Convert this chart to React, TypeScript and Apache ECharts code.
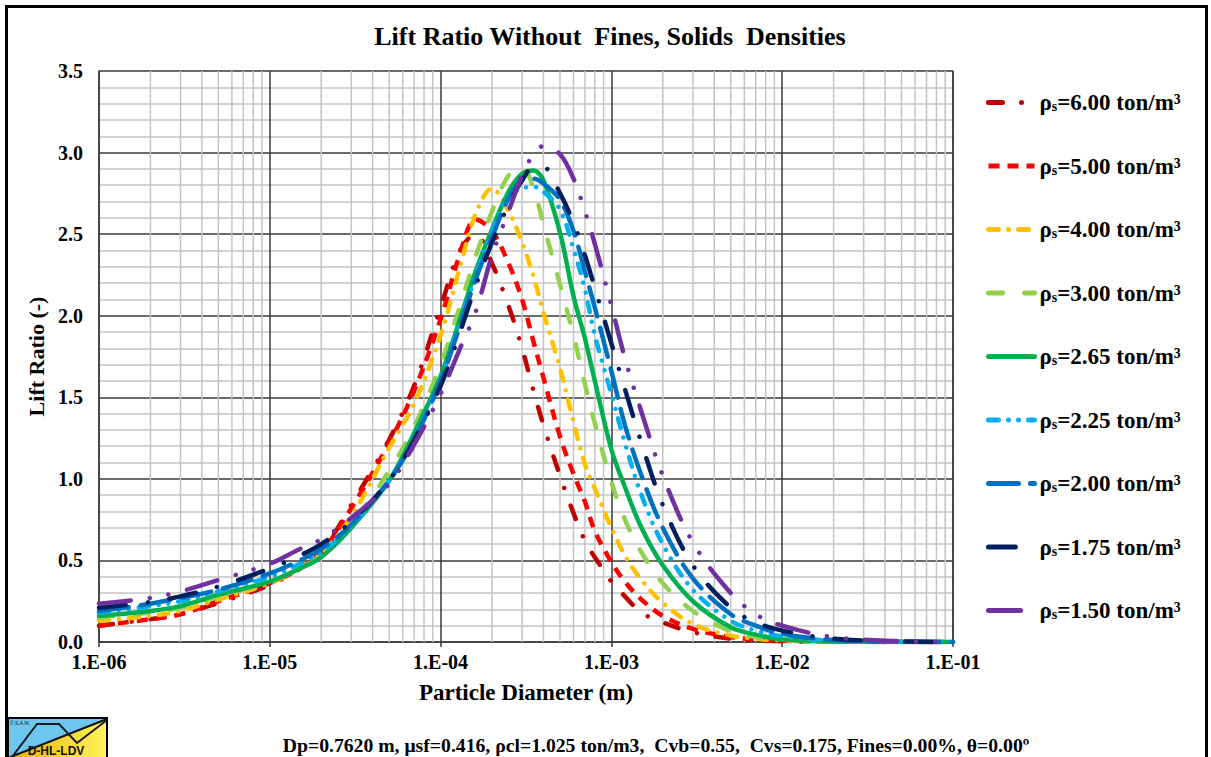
import React, { useEffect, useRef } from "react";
import * as echarts from "echarts";

// Particle diameters (m) at which the curves were read
const xDiameters = [1e-6, 2e-6, 3e-6, 5e-6, 1e-5, 1.5e-5, 2e-5, 3e-5, 5e-5, 7e-5, 1e-4, 1.3e-4, 1.6e-4, 2e-4, 2.5e-4, 3e-4, 3.5e-4, 4e-4, 5e-4, 6e-4, 7e-4, 8e-4, 1e-3, 1.2e-3, 1.5e-3, 2e-3, 3e-3, 5e-3, 7e-3, 1e-2, 2e-2, 5e-2, 1e-1];

// Lift ratio per solids density
const lift600 = [0.10, 0.14, 0.17, 0.24, 0.35, 0.45, 0.55, 0.84, 1.24, 1.57, 2.05, 2.40, 2.50, 2.32, 2.06, 1.80, 1.54, 1.33, 1.02, 0.79, 0.62, 0.52, 0.37, 0.28, 0.18, 0.12, 0.06, 0.02, 0.01, 0.005, 0.001, 0, 0];
const lift500 = [0.10, 0.14, 0.17, 0.25, 0.36, 0.45, 0.55, 0.82, 1.22, 1.54, 1.98, 2.38, 2.59, 2.52, 2.32, 2.10, 1.84, 1.62, 1.26, 1.03, 0.86, 0.68, 0.49, 0.37, 0.26, 0.16, 0.08, 0.03, 0.015, 0.008, 0.002, 0, 0];
const lift400 = [0.13, 0.16, 0.19, 0.26, 0.36, 0.45, 0.54, 0.77, 1.19, 1.46, 1.88, 2.30, 2.62, 2.78, 2.64, 2.45, 2.24, 2.02, 1.68, 1.35, 1.09, 0.94, 0.70, 0.53, 0.38, 0.24, 0.11, 0.04, 0.02, 0.01, 0.002, 0, 0];
const lift300 = [0.15, 0.18, 0.21, 0.28, 0.37, 0.45, 0.53, 0.72, 1.05, 1.32, 1.70, 2.06, 2.36, 2.64, 2.86, 2.91, 2.78, 2.56, 2.19, 1.88, 1.58, 1.34, 0.98, 0.75, 0.55, 0.36, 0.19, 0.065, 0.03, 0.015, 0.003, 0, 0];
const lift265 = [0.16, 0.19, 0.22, 0.29, 0.37, 0.45, 0.52, 0.70, 0.99, 1.28, 1.63, 1.98, 2.27, 2.53, 2.76, 2.87, 2.89, 2.83, 2.51, 2.12, 1.86, 1.60, 1.18, 0.95, 0.70, 0.47, 0.25, 0.09, 0.045, 0.015, 0.003, 0, 0];
const lift225 = [0.18, 0.22, 0.25, 0.31, 0.40, 0.48, 0.55, 0.71, 0.99, 1.25, 1.61, 1.96, 2.24, 2.52, 2.73, 2.78, 2.79, 2.76, 2.65, 2.41, 2.16, 1.88, 1.52, 1.22, 0.90, 0.60, 0.32, 0.13, 0.07, 0.035, 0.008, 0.001, 0];
const lift200 = [0.19, 0.235, 0.27, 0.32, 0.42, 0.50, 0.57, 0.72, 0.99, 1.24, 1.60, 1.94, 2.22, 2.48, 2.72, 2.83, 2.84, 2.81, 2.71, 2.52, 2.27, 2.05, 1.66, 1.33, 1.02, 0.70, 0.39, 0.17, 0.10, 0.05, 0.012, 0.002, 0];
const lift175 = [0.21, 0.245, 0.28, 0.34, 0.45, 0.53, 0.60, 0.74, 0.99, 1.24, 1.57, 1.90, 2.18, 2.45, 2.68, 2.83, 2.91, 2.91, 2.75, 2.57, 2.37, 2.17, 1.83, 1.55, 1.22, 0.84, 0.47, 0.21, 0.12, 0.07, 0.02, 0.003, 0];
const lift150 = [0.235, 0.27, 0.31, 0.38, 0.48, 0.57, 0.63, 0.76, 0.97, 1.21, 1.52, 1.80, 2.02, 2.37, 2.64, 2.86, 2.99, 3.04, 2.99, 2.84, 2.64, 2.44, 2.06, 1.74, 1.41, 1.02, 0.61, 0.30, 0.17, 0.10, 0.03, 0.005, 0];

const densities = ["6.00", "5.00", "4.00", "3.00", "2.65", "2.25", "2.00", "1.75", "1.50"];
const liftSeries = [lift600, lift500, lift400, lift300, lift265, lift225, lift200, lift175, lift150];

const xTickLabels = ["1.E-06", "1.E-05", "1.E-04", "1.E-03", "1.E-02", "1.E-01"];
const yTickLabels = ["0.0", "0.5", "1.0", "1.5", "2.0", "2.5", "3.0", "3.5"];
const minorMultipliers = [2, 3, 4, 5, 6, 7, 8, 9];
const decades = [1e-6, 1e-5, 1e-4, 1e-3, 1e-2];

const titleText = "Lift Ratio Without  Fines, Solids  Densities";
const xAxisTitle = "Particle Diameter (m)";
const yAxisTitle = "Lift Ratio (-)";
const footerText = "Dp=0.7620 m, μsf=0.416, ρcl=1.025 ton/m3,  Cvb=0.55,  Cvs=0.175, Fines=0.00%, θ=0.00º";

// Styles (colour, dash pattern, cap)
const lineStyles = [
  { color: "#C00000", type: [14, 19, 0.01, 19], cap: "round" },
  { color: "#FF0000", type: [11, 8], cap: "butt" },
  { color: "#FFC000", type: [10, 10, 0.01, 10], cap: "round" },
  { color: "#92D050", type: [14, 22], cap: "round" },
  { color: "#00B050", type: "solid", cap: "round" },
  { color: "#00B0F0", type: [10, 10, 0.01, 10, 0.01, 10], cap: "round" },
  { color: "#0070C0", type: [30, 12], cap: "round" },
  { color: "#002060", type: [27, 22, 0.01, 22], cap: "round" },
  { color: "#7030A0", type: [32, 19, 0.01, 19, 0.01, 19], cap: "round" },
];

const SERIF = "'Liberation Serif', 'Times New Roman', serif";
const MAJOR = "#3a3a3a";
const MINOR = "#c4c4c4";

export default function App() {
  const ref = useRef<HTMLDivElement>(null);

  useEffect(() => {
    if (!ref.current) return;
    const chart = echarts.init(ref.current, undefined, { renderer: "svg" });

    const names = densities.map((d) => `ρs=${d} ton/m³`);
    const minorX: number[] = [];
    decades.forEach((d) => minorMultipliers.forEach((m) => minorX.push(d * m)));
    const minorGridData: any[] = [];
    minorX.forEach((v) => {
      minorGridData.push([v, 0], [v, 3.5], [v, "-"]);
    });

    const dataSeries = liftSeries.map((vals, i) => ({
      type: "line",
      name: names[i],
      data: xDiameters.map((x, k) => [x, vals[k]]),
      showSymbol: false,
      symbol: "none",
      smooth: 0.35,
      z: 3,
      lineStyle: {
        width: 4.5,
        color: lineStyles[i].color,
        type: lineStyles[i].type,
        cap: lineStyles[i].cap,
      },
      itemStyle: { color: lineStyles[i].color },
      emphasis: { disabled: true },
    }));

    const gridSeries = {
      type: "line",
      name: "minorGrid",
      data: minorGridData,
      showSymbol: false,
      symbol: "none",
      connectNulls: false,
      lineStyle: { width: 1.5, color: MINOR, type: "solid" },
      silent: true,
      z: 1,
      emphasis: { disabled: true },
    };

    const logoGradient = new echarts.graphic.LinearGradient(0, 0, 1, 0, [
      { offset: 0, color: "#E6B000" },
      { offset: 1, color: "#FFF35C" },
    ]);

    const option: any = {
      animation: false,
      backgroundColor: "#ffffff",
      grid: { left: 99, right: 258, top: 71, bottom: 115, containLabel: false },
      xAxis: {
        type: "log",
        logBase: 10,
        min: 1e-6,
        max: 1e-1,
        name: xAxisTitle,
        nameLocation: "middle",
        nameGap: 39,
        nameTextStyle: { fontFamily: SERIF, fontWeight: "bold", fontSize: 23, color: "#000" },
        axisLine: { show: true, lineStyle: { color: MAJOR, width: 1.5 } },
        axisTick: { show: true, length: 5, lineStyle: { color: MAJOR, width: 1.5 } },
        axisLabel: {
          margin: 10,
          fontFamily: SERIF,
          fontWeight: "bold",
          fontSize: 20,
          color: "#000",
          formatter: (v: number) => xTickLabels[Math.round(Math.log10(v)) + 6] ?? "",
        },
        splitLine: { show: true, lineStyle: { color: MAJOR, width: 1.5 } },
      },
      yAxis: {
        type: "value",
        min: 0,
        max: 3.5,
        interval: 0.5,
        name: yAxisTitle,
        nameLocation: "middle",
        nameGap: 50,
        nameTextStyle: { fontFamily: SERIF, fontWeight: "bold", fontSize: 22, color: "#000" },
        axisLine: { show: true, lineStyle: { color: MAJOR, width: 1.5 } },
        axisTick: { show: false },
        minorTick: { show: false, splitNumber: 5 },
        minorSplitLine: { show: true, lineStyle: { color: MINOR, width: 1.5 } },
        axisLabel: {
          margin: 16,
          fontFamily: SERIF,
          fontWeight: "bold",
          fontSize: 20,
          color: "#000",
          formatter: (v: number) => yTickLabels[Math.round(v / 0.5)] ?? "",
        },
        splitLine: { show: true, lineStyle: { color: MAJOR, width: 1.5 } },
      },
      legend: {
        orient: "vertical",
        left: 981,
        top: 86,
        itemGap: 40.5,
        itemWidth: 46,
        itemHeight: 22,
        selectedMode: false,
        data: names,
        lineStyle: { width: 5 },
        itemStyle: { color: "rgba(0,0,0,0)", borderColor: "rgba(0,0,0,0)", borderWidth: 0, opacity: 0 },
        formatter: (name: string) => `{t|ρ}{s|s}{t|${name.slice(2)}}`,
        textStyle: {
          rich: {
            t: { fontFamily: SERIF, fontWeight: "bold", fontSize: 23, color: "#000", lineHeight: 22 },
            s: { fontFamily: SERIF, fontWeight: "bold", fontSize: 14, color: "#000", lineHeight: 12, verticalAlign: "bottom" },
          },
        },
      },
      series: [gridSeries, ...dataSeries],
      graphic: [
        {
          type: "rect",
          silent: true,
          shape: { x: 6.5, y: 6.5, width: 1200, height: 800 },
          style: { fill: "none", stroke: "#000", lineWidth: 3 },
          z: 10,
        },
        {
          type: "text",
          silent: true,
          x: 610,
          y: 36,
          style: {
            text: titleText,
            font: `bold 26px ${SERIF}`,
            fill: "#000",
            textAlign: "center",
            textVerticalAlign: "middle",
          },
        },
        {
          type: "text",
          silent: true,
          x: 656,
          y: 745,
          style: {
            text: footerText,
            font: `bold 19.7px ${SERIF}`,
            fill: "#000",
            textAlign: "center",
            textVerticalAlign: "middle",
          },
        },
        {
          type: "group",
          silent: true,
          z: 20,
          children: [
            { type: "rect", shape: { x: 8, y: 718, width: 99, height: 45 }, style: { fill: "#6DC6F0" } },
            { type: "polygon", shape: { points: [[8, 758], [107, 719], [107, 763], [8, 763]] }, style: { fill: logoGradient } },
            { type: "line", shape: { x1: 8, y1: 758, x2: 107, y2: 719 }, style: { stroke: "#111", lineWidth: 2 } },
            { type: "polyline", shape: { points: [[12, 757], [37, 724], [59, 724], [77, 743], [107, 720]] }, style: { stroke: "#1a1a1a", lineWidth: 2, fill: "none" } },
            { type: "rect", shape: { x: 8, y: 718, width: 99, height: 45 }, style: { fill: "none", stroke: "#000", lineWidth: 2 } },
            { type: "text", x: 56, y: 751, style: { text: "D-HL-LDV", font: "bold 12px 'Liberation Sans', Arial, sans-serif", fill: "#111", textAlign: "center", textVerticalAlign: "middle" } },
            { type: "text", x: 10, y: 723, style: { text: "© S.A.M.", font: "5px 'Liberation Sans', Arial, sans-serif", fill: "#222", textAlign: "left", textVerticalAlign: "middle" } },
          ],
        },
      ],
    };

    chart.setOption(option);
    return () => chart.dispose();
  }, []);

  return (
    <div
      ref={ref}
      style={{ position: "absolute", left: 0, top: 0, width: 1211, height: 757 }}
    />
  );
}
